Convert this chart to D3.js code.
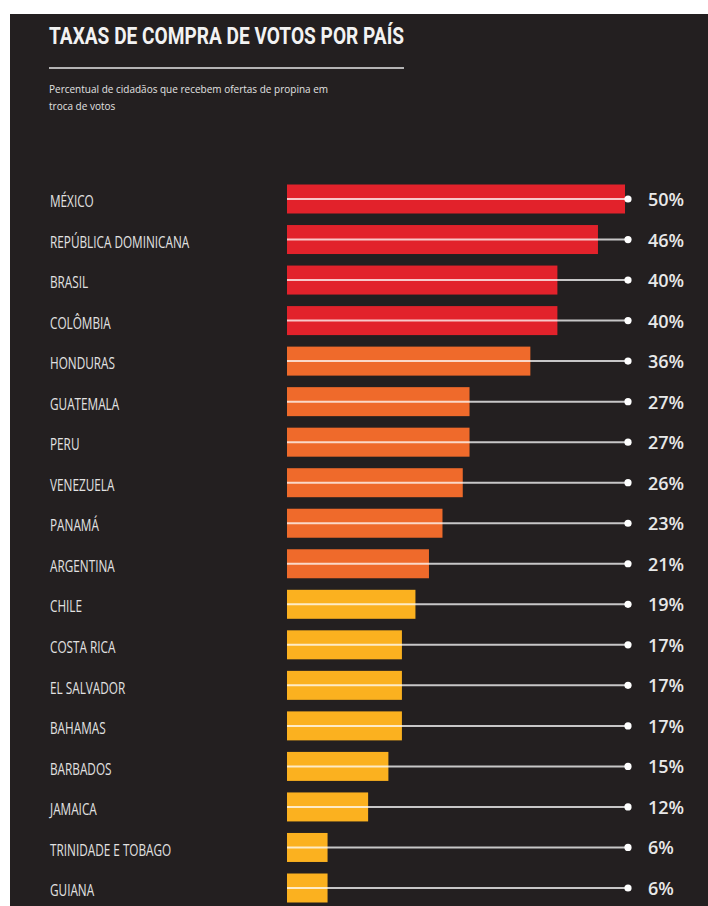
<!DOCTYPE html>
<html>
<head>
<meta charset="utf-8">
<script src="https://cdn.jsdelivr.net/npm/d3@7"></script>
<style>
  body { margin: 0; background: #ffffff; }
  #chart { width: 708px; height: 906px; }
</style>
</head>
<body>
<div id="chart"></div>
<script>
// chart data
var countries = ["MÉXICO", "REPÚBLICA DOMINICANA", "BRASIL", "COLÔMBIA", "HONDURAS",
    "GUATEMALA", "PERU", "VENEZUELA", "PANAMÁ", "ARGENTINA", "CHILE", "COSTA RICA",
    "EL SALVADOR", "BAHAMAS", "BARBADOS", "JAMAICA", "TRINIDADE E TOBAGO", "GUIANA"];
var values = [50, 46, 40, 40, 36, 27, 27, 26, 23, 21, 19, 17, 17, 17, 15, 12, 6, 6];
var title = "TAXAS DE COMPRA DE VOTOS POR PAÍS";
var subtitleLines = ["Percentual de cidadãos que recebem ofertas de propina em", "troca de votos"];

var svgWidth = 708;
var svgHeight = 906;

var svg = d3.select("#chart")
    .append("svg")
    .attr("width", svgWidth)
    .attr("height", svgHeight);

// dark panel
svg.append("rect")
    .attr("x", 10)
    .attr("y", 14)
    .attr("width", svgWidth - 10)
    .attr("height", svgHeight - 14)
    .attr("fill", "#231f20");

// header
svg.append("text")
    .attr("x", 49)
    .attr("y", 44)
    .attr("textLength", 355)
    .attr("lengthAdjust", "spacingAndGlyphs")
    .attr("font-family", "Roboto, 'Liberation Sans', sans-serif")
    .attr("font-weight", 700)
    .attr("font-size", 23)
    .attr("fill", "#f2f2f2")
    .text(title);

svg.append("line")
    .attr("x1", 49).attr("x2", 404)
    .attr("y1", 68).attr("y2", 68)
    .attr("stroke", "#e6e6e6")
    .attr("stroke-width", 1.5);

svg.append("g")
    .selectAll("text")
    .data(subtitleLines)
    .enter()
    .append("text")
    .attr("x", 49)
    .attr("y", (d, i) => 93 + i * 17)
    .attr("font-family", "'Open Sans', sans-serif")
    .attr("font-size", 10)
    .attr("fill", "#e2e2e2")
    .text(d => d);

// scales
var xScale = d3.scaleLinear()
    .domain([0, 50])
    .range([287, 625]);

var yScale = d3.scalePoint()
    .domain(countries)
    .range([199, 888]);

var barHeight = 29;

var color = d3.scaleThreshold()
    .domain([20, 38])
    .range(["#fbb11f", "#ef6a2b", "#e2222b"]);

var rows = countries.map((c, i) => ({ country: c, value: values[i] }));

var chartGroup = svg.append("g");

// bars
chartGroup.append("g")
    .selectAll("rect")
    .data(rows)
    .enter()
    .append("rect")
    .attr("x", xScale(0))
    .attr("y", d => yScale(d.country) - barHeight / 2)
    .attr("width", d => xScale(d.value) - xScale(0))
    .attr("height", barHeight)
    .attr("fill", d => color(d.value));

// leader lines + dots
var dotX = xScale(50) + 3;

chartGroup.append("g")
    .selectAll("line")
    .data(rows)
    .enter()
    .append("line")
    .attr("x1", xScale(0))
    .attr("x2", dotX)
    .attr("y1", d => yScale(d.country))
    .attr("y2", d => yScale(d.country))
    .attr("stroke", "#ffffff")
    .attr("stroke-opacity", 0.75)
    .attr("stroke-width", 2);

chartGroup.append("g")
    .selectAll("circle")
    .data(rows)
    .enter()
    .append("circle")
    .attr("cx", dotX)
    .attr("cy", d => yScale(d.country))
    .attr("r", 3.6)
    .attr("fill", "#ffffff");

// country labels
chartGroup.append("g")
    .selectAll("text")
    .data(rows)
    .enter()
    .append("text")
    .attr("transform", d => `translate(50, ${yScale(d.country) + 2}) scale(0.76, 1)`)
    .attr("dominant-baseline", "central")
    .attr("font-family", "'Open Sans', sans-serif")
    .attr("font-size", 15.5)
    .attr("fill", "#e2e2e2")
    .text(d => d.country);

// value labels
chartGroup.append("g")
    .selectAll("text")
    .data(rows)
    .enter()
    .append("text")
    .attr("x", 648)
    .attr("y", d => yScale(d.country))
    .attr("dominant-baseline", "central")
    .attr("font-family", "'Open Sans', sans-serif")
    .attr("font-weight", 600)
    .attr("font-size", 18)
    .attr("fill", "#e8e8e8")
    .text(d => d.value + "%");
</script>
</body>
</html>
